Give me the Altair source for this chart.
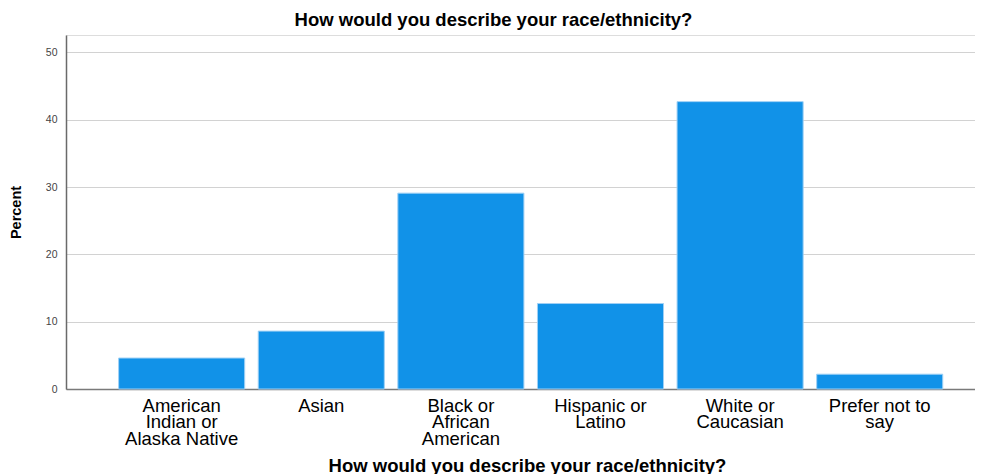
import altair as alt
import pandas as pd

categories = [
    "American Indian or Alaska Native",
    "Asian",
    "Black or African American",
    "Hispanic or Latino",
    "White or Caucasian",
    "Prefer not to say",
]
label_lines = [
    ["American", "Indian or", "Alaska Native"],
    ["Asian"],
    ["Black or", "African", "American"],
    ["Hispanic or", "Latino"],
    ["White or", "Caucasian"],
    ["Prefer not to", "say"],
]
percents = [4.6, 8.6, 29.1, 12.7, 42.7, 2.2]
y_ticks = [0, 10, 20, 30, 40, 50]

df = pd.DataFrame({"category": categories, "percent": percents})

def lines_literal(lines):
    return "[" + ",".join("'" + s + "'" for s in lines) + "]"

expr = "datum.label"
for cat, lines in reversed(list(zip(categories, label_lines))):
    expr = f"datum.label == '{cat}' ? {lines_literal(lines)} : ({expr})"

FONT = "Liberation Sans"
PLOT_W = 909
PLOT_H = 354

chart = (
    alt.Chart(df)
    .mark_bar(color="#1192E8", stroke="#9fd0f5", strokeWidth=1)
    .encode(
        x=alt.X(
            "category:N",
            sort=categories,
            title="How would you describe your race/ethnicity?",
            scale=alt.Scale(paddingInner=0.097, paddingOuter=0.304, align=0.62),
            axis=alt.Axis(
                labelAngle=0,
                labelExpr=expr,
                labelFont=FONT,
                labelFontSize=18.5,
                labelColor="#000000",
                labelLineHeight=16.5,
                labelPadding=7,
                labelLimit=300,
                ticks=False,
                tickSize=0,
                domainColor="#7a7a7a",
                domainWidth=1.5,
                titleFont=FONT,
                titleFontSize=18.5,
                titleFontWeight="bold",
                titleColor="#000000",
                titleX=461,
                titleY=76,
                titleBaseline="middle",
            ),
        ),
        y=alt.Y(
            "percent:Q",
            title="Percent",
            scale=alt.Scale(domain=[0, 52.6], nice=False),
            axis=alt.Axis(
                values=y_ticks,
                labelFont=FONT,
                labelFontSize=10.5,
                labelColor="#444444",
                labelPadding=9,
                ticks=False,
                tickSize=0,
                domainColor="#6a6a6a",
                domainWidth=1.5,
                gridColor="#d2d2d2",
                gridWidth=1,
                titleFont=FONT,
                titleFontSize=14.5,
                titleFontWeight="bold",
                titleColor="#000000",
                titleX=-50,
                titleY=PLOT_H / 2,
                titleBaseline="middle",
                titleAngle=270,
            ),
        ),
    )
    .properties(
        width=PLOT_W,
        height=PLOT_H,
        autosize=alt.AutoSizeParams(type="none"),
        padding={"left": 58, "top": 27, "right": 0, "bottom": 85},
        title=alt.TitleParams(
            "How would you describe your race/ethnicity?",
            font=FONT,
            fontSize=18.5,
            fontWeight="bold",
            color="#000000",
            anchor="middle",
            dx=-27,
            offset=6,
        ),
    )
    .configure_view(stroke=None)
    .configure(background="white")
)

chart.save("out.html", embed_options={"renderer": "svg", "actions": False})
